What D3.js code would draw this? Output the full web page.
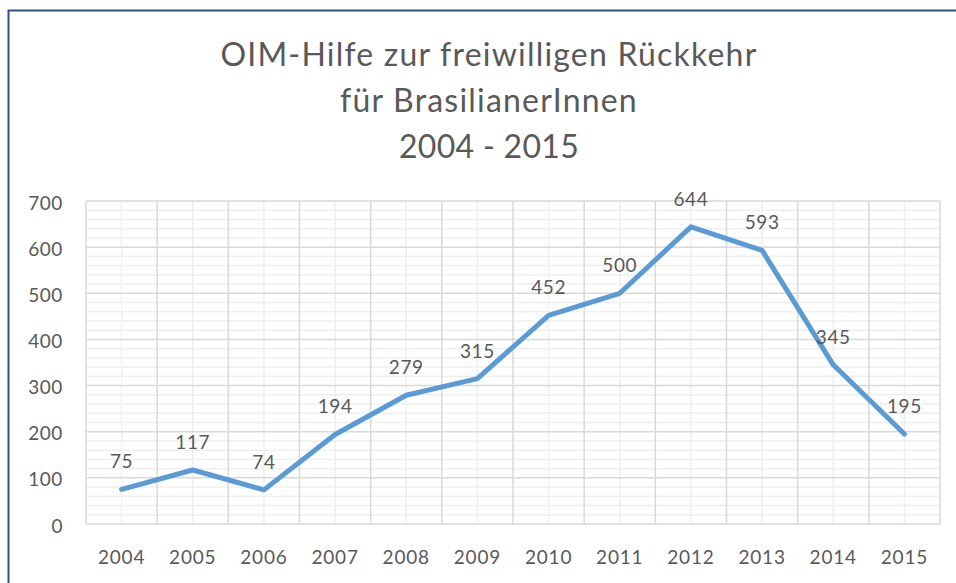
<!DOCTYPE html>
<html>
<head>
<meta charset="utf-8">
<script src="https://cdn.jsdelivr.net/npm/d3@7"></script>
<style>
  body { margin: 0; background: #fff; }
  svg text { font-family: Lato, "Open Sans", sans-serif; fill: #595959; }
</style>
</head>
<body>
<svg id="chart" width="956" height="583"></svg>
<script>
// data
const years = ["2004", "2005", "2006", "2007", "2008", "2009", "2010", "2011", "2012", "2013", "2014", "2015"];
const returns = [75, 117, 74, 194, 279, 315, 452, 500, 644, 593, 345, 195];
const yTicks = [0, 100, 200, 300, 400, 500, 600, 700];
const titleLines = ["OIM-Hilfe zur freiwilligen Rückkehr", "für BrasilianerInnen", "2004 - 2015"];

const svg = d3.select("#chart");

// plot area
const plotLeft = 86, plotRight = 940, plotTop = 201, plotBottom = 524;

let x = d3.scaleBand().domain(years).range([plotLeft, plotRight]).padding(0);
let y = d3.scaleLinear().domain([0, 700]).range([plotBottom, plotTop]);
let cx = d => x(d) + x.bandwidth() / 2;

// outer chart frame (runs off the right and bottom edge)
svg.append("rect")
    .attr("x", 8.5).attr("y", 10.5)
    .attr("width", 1000).attr("height", 1000)
    .attr("fill", "none")
    .attr("stroke", "#2f4f85")
    .attr("stroke-width", 2);

// minor grid
let minorY = d3.range(0, 701, 20).filter(v => v % 100 !== 0);
svg.append("g").selectAll("line").data(minorY).enter().append("line")
    .attr("x1", plotLeft).attr("x2", plotRight)
    .attr("y1", d => y(d)).attr("y2", d => y(d))
    .attr("stroke", "#efefef").attr("stroke-width", 1.5);

svg.append("g").selectAll("line").data(years).enter().append("line")
    .attr("x1", d => cx(d)).attr("x2", d => cx(d))
    .attr("y1", plotTop).attr("y2", plotBottom)
    .attr("stroke", "#efefef").attr("stroke-width", 1.5);

// major grid
svg.append("g").selectAll("line").data(yTicks).enter().append("line")
    .attr("x1", plotLeft).attr("x2", plotRight)
    .attr("y1", d => y(d)).attr("y2", d => y(d))
    .attr("stroke", "#d9d9d9").attr("stroke-width", 1.5);

let bounds = years.map(d => x(d)).concat([plotRight]);
svg.append("g").selectAll("line").data(bounds).enter().append("line")
    .attr("x1", d => d).attr("x2", d => d)
    .attr("y1", plotTop).attr("y2", plotBottom)
    .attr("stroke", "#d9d9d9").attr("stroke-width", 1.5);

// y axis labels
svg.append("g").attr("transform", "translate(" + plotLeft + ",2)")
    .call(d3.axisLeft(y).tickValues(yTicks).tickSize(0).tickPadding(23))
    .call(g => g.select(".domain").remove())
    .selectAll("text")
    .attr("fill", "#595959")
    .style("font-size", "19px")
    .style("letter-spacing", "0.6px")
    .style("font-family", "Lato, sans-serif");

// x axis labels
svg.append("g").attr("transform", "translate(0," + plotBottom + ")")
    .call(d3.axisBottom(x).tickSize(0).tickPadding(27))
    .call(g => g.select(".domain").remove())
    .selectAll("text")
    .attr("fill", "#595959")
    .style("font-size", "19px")
    .style("letter-spacing", "0.8px")
    .style("font-family", "Lato, sans-serif");

// the line
let line = d3.line()
    .x((d, i) => cx(years[i]))
    .y(d => y(d));

svg.append("path")
    .datum(returns)
    .attr("d", line)
    .attr("fill", "none")
    .attr("stroke", "#5b9bd5")
    .attr("stroke-width", 5)
    .attr("stroke-linejoin", "round")
    .attr("stroke-linecap", "round");

// value labels
svg.append("g").selectAll("text").data(returns).enter().append("text")
    .attr("x", (d, i) => cx(years[i]))
    .attr("y", d => y(d) - 21)
    .attr("text-anchor", "middle")
    .style("font-size", "19px")
    .style("letter-spacing", "0.6px")
    .text(d => d);

// title (Candara in the original is wider, so stretch spacing a bit)
svg.append("g").selectAll("text").data(titleLines).enter().append("text")
    .attr("x", 489)
    .attr("y", (d, i) => 66 + i * 46)
    .attr("text-anchor", "middle")
    .style("font-size", "32px")
    .style("letter-spacing", (d, i) => i < 2 ? "1.2px" : "0.3px")
    .text(d => d);
</script>
</body>
</html>
